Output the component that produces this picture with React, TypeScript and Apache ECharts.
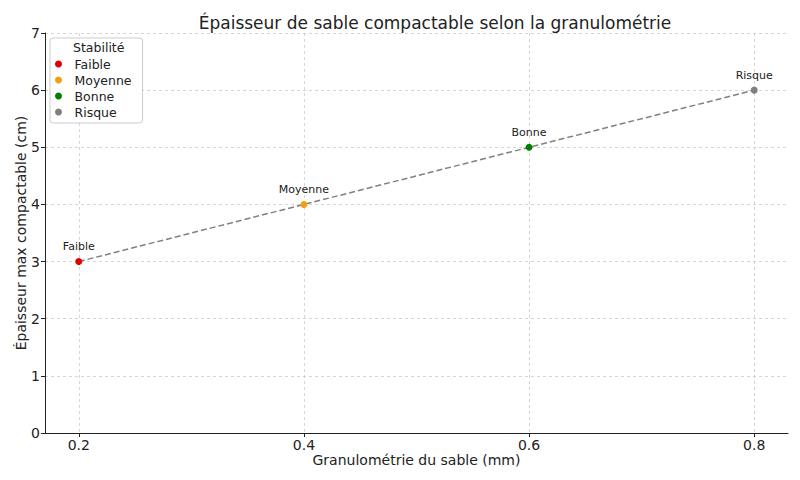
import { useEffect, useRef } from 'react'
import * as echarts from 'echarts'

const grains = [0.2, 0.4, 0.6, 0.8]
const epaisseurs = [3, 4, 5, 6]
const stabilites = ['Faible', 'Moyenne', 'Bonne', 'Risque']
const couleurs = ['#e00000', '#f0a010', '#007f00', '#7f7f7f']
const yTicks = [0, 1, 2, 3, 4, 5, 6, 7]

export default function App() {
  const ref = useRef<HTMLDivElement>(null)

  useEffect(() => {
    if (!ref.current) return
    const c = echarts.init(ref.current, null, { renderer: 'svg' })
    const font = 'DejaVu Sans'
    const gridLine = { show: true, lineStyle: { color: '#cccccc', type: [3, 3] as any, width: 0.8 } }
    c.setOption({
      animation: false,
      textStyle: { fontFamily: font },
      title: { text: 'Épaisseur de sable compactable selon la granulométrie', left: 430, top: 9, textAlign: 'center',
        textStyle: { fontFamily: font, fontSize: 17, fontWeight: 'normal', color: '#222' } },
      grid: { left: 45, right: 12, top: 33, bottom: 47, outerBoundsMode: 'none' },
      legend: { data: stabilites, orient: 'vertical', left: 50, top: 38, icon: 'circle', itemWidth: 22, itemHeight: 7, itemGap: 2,
        padding: [19, 11, 4, 5], borderColor: '#cccccc', borderWidth: 1, borderRadius: 3, backgroundColor: 'rgba(255,255,255,0.9)',
        textStyle: { fontFamily: font, fontSize: 12.5, color: '#222', lineHeight: 14 } },
      graphic: [{ type: 'text', left: 73, top: 41, style: { text: 'Stabilité', fontFamily: font, fontSize: 12.5, fill: '#222' }, z: 100 }],
      xAxis: { type: 'value', min: 0.17, max: 0.83, interval: 0.2,
        name: 'Granulométrie du sable (mm)', nameLocation: 'middle', nameGap: 20, nameMoveOverlap: false,
        nameTextStyle: { fontFamily: font, fontSize: 14, color: '#222' },
        axisLine: { show: true, onZero: false, lineStyle: { color: '#222', width: 1 } },
        axisTick: { show: true, length: 4, lineStyle: { color: '#222' }, customValues: grains },
        axisLabel: { fontFamily: font, fontSize: 14, color: '#222', margin: 5, customValues: grains, formatter: (v: number) => String(v) },
        splitLine: gridLine },
      yAxis: { type: 'value', min: 0, max: 7, interval: 1,
        name: 'Épaisseur max compactable (cm)', nameLocation: 'middle', nameGap: 17, nameMoveOverlap: false,
        nameTextStyle: { fontFamily: font, fontSize: 14, color: '#222' },
        axisLine: { show: true, lineStyle: { color: '#222', width: 1 } },
        axisTick: { show: true, length: 4, lineStyle: { color: '#222' }, customValues: yTicks },
        axisLabel: { fontFamily: font, fontSize: 14, color: '#222', margin: 5, customValues: yTicks },
        splitLine: gridLine },
      series: [
        { type: 'line', data: grains.map((g, i) => [g, epaisseurs[i]]), symbol: 'none', silent: true,
          lineStyle: { color: '#808080', width: 1.5, type: [6, 3] }, z: 2 },
        ...stabilites.map((s, i) => ({
          type: 'scatter', name: s, data: [[grains[i], epaisseurs[i]]], symbolSize: 7, z: 3,
          itemStyle: { color: couleurs[i], opacity: 1 },
          label: { show: true, position: 'top', distance: 6, formatter: s, fontFamily: font, fontSize: 11, color: '#222' },
        })),
      ],
    })
    return () => c.dispose()
  }, [])

  return <div ref={ref} style={{ width: 800, height: 480, position: 'absolute', left: 0, top: 0 }} />
}
